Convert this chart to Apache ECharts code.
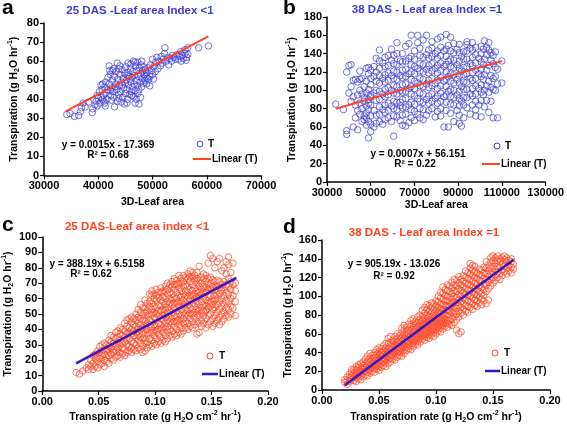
<!DOCTYPE html>
<html><head><meta charset="utf-8">
<script src="https://cdn.jsdelivr.net/npm/echarts@6/dist/echarts.min.js"></script>
<style>html,body{margin:0;padding:0;background:#fff}#c{width:567px;height:425px}</style>
</head><body><div id="c"></div>
<script>
const FONT = 'Arial, "Liberation Sans", sans-serif';
const BLUE = '#3c3cd4';
const RED = '#ff4422';
const TREND_BLUE = '#3318c8';

// Panel a: 3D leaf area vs transpiration, 25 DAS
const aPoints = [
[34200,32],[34800,32.5],[35600,31],[36400,31.5],[36700,33.5],[36900,35.5],[37200,38],[37600,36],[38200,38.5],[38900,33],[39000,35],[39400,37],[39600,39],[39800,36.5],[39800,42],
[40000,40.5],[40200,44],[40300,38],[40500,41],[40500,47.5],[40700,45],[40800,48],[40800,40],[41000,42],[41000,39],[41200,46.5],[41200,38],[41300,36.5],[41400,49],[41500,43.5],[41600,40],[41800,45],[41800,51.5],
[42000,48],[42000,57.5],[42100,55],[42200,53],[42200,44.5],[42300,42],[42400,39.5],[42500,46],[42600,50],[42600,55],[42700,44],[42800,56],[42900,41],[43000,36],[43000,52],[43100,46.5],[43200,48],[43300,54.5],[43400,45],[43500,39],[43500,59],[43600,50.5],[43700,42.5],[43800,56],[43800,40.5],[43900,47],
[44000,53],[44000,57.5],[44100,44],[44200,38.5],[44300,49],[44400,55.5],[44400,47.5],[44500,41],[44600,51],[44700,46],[44800,37.5],[44900,53.5],[45000,43],[45000,48.5],[45100,57],[45200,50],[45300,45],[45300,38],[45300,52.5],[45400,40],[45500,54],[45500,59],[45600,47.5],[45700,52],[45800,42.5],[45900,56],
[46000,49],[46000,58.5],[46100,44],[46200,51.5],[46200,42],[46300,46.5],[46400,54.5],[46500,41.5],[46500,60],[46600,48],[46700,52.5],[46800,38],[46800,44.5],[46800,59.5],[46900,57.5],[47000,50],[47000,40],[47100,55],[47200,47],[47300,59.5],[47300,43],[47400,52],[47500,45],[47500,37.5],[47600,56.5],[47700,49],[47800,53.5],[47800,41],[47900,58],
[48000,46.5],[48000,60],[48100,51],[48200,55],[48300,48.5],[48400,57],[48500,53],[48600,50],[48700,55.5],[48800,52],[48900,48],[49000,54],[49000,51],[49200,56.5],[49300,50.5],[49500,52],[49500,47],[49600,58],[49800,55],
[50000,61],[50000,53],[50200,57],[50200,50.5],[50500,54.5],[50600,59.5],[50800,62],[51000,56],[51200,60],[51500,57.5],[51600,62.5],[51800,59],[52000,61],[52200,64],[52300,67],[52500,60],[52800,62],[53000,58],[53200,61.5],[53500,60],[53700,63],
[54000,62],[54200,61],[54500,63.5],[54800,61],[55000,62.5],[55200,65],[55300,60],[55500,63],[55700,61.5],[56000,64],[56000,66],[56200,60.5],[56300,62],[56500,67],[56500,63.5],[58500,67],[60300,68]
];
const aTrend = [[34000,33.6],[60300,73]];

// Panel b: 3D leaf area vs transpiration, 38 DAS  (each row: x, then y values)
const bColumns = [
[34000,85],[37500,79],[39000,56,52,120],[40000,97,127],[41000,128,104,88],[42000,60,111,93],[43000,70,84,112],[44000,57,95,78,109],
[45000,100,74,86,121,112],[46000,66,96,113,80],[47000,72,88,104,68,92],[48000,62,75,83,97,110,124,70],[49000,48,66,79,90,101,118,125,86],
[50000,55,63,72,84,95,106,113,122,93],[51500,60,78,97,115,126],[52500,64,73,89,100,110,120,135],[54000,66,74,82,90,99,108,116,124,132,144],
[55500,63,79,96,113,130],[56500,68,76,84,93,101,109,117,126,136],[58000,70,78,86,95,103,111,119,127,138],[59500,66,83,100,116,133,145],
[60500,50,72,80,88,97,105,113,121,129,138],[62000,71,79,87,96,104,112,120,128,140,152],[63500,67,83,100,116,132,87],
[64500,62,73,81,90,98,106,114,122,131,140],[66000,61,74,82,91,99,107,115,123,132,148],[67500,65,84,102,118,135,151],
[68500,70,79,87,96,104,112,120,128,137,160],[70000,67,77,85,94,102,110,118,126,134,143],[71500,74,91,108,124,152,160],
[72500,70,80,88,97,105,113,121,129,138,146],[74000,68,79,87,96,104,112,120,128,136,155],[75500,73,90,107,123,139,160],
[76500,78,86,94,103,111,119,127,135,144],[78000,80,88,96,105,113,121,129,137,146,153],[79500,71,91,107,124,140],
[80500,77,86,94,102,111,119,127,135,143,156],[82000,72,80,88,97,105,114,122,130,138,147,158],[83500,60,93,110,126,143],
[84500,78,87,95,104,112,120,128,137,145,161],[85500,60,99,115,132,149],[86500,75,85,93,101,110,118,126,134,143,158],
[88000,66,84,92,100,108,117,125,133,141,151],[89500,78,95,112,128,145],[90500,64,73,83,91,99,108,116,124,132,141,150],
[91500,61,88,104,121,137],[92500,70,84,92,101,109,117,125,134,142],[94000,81,92,101,109,118,126,134,143,150,153],
[95500,74,96,113,129,146],[96500,84,94,102,111,119,127,136,144,152],[98000,72,79,88,96,105,113,122,130,139,147],
[99500,84,102,118,135],[100500,71,89,98,106,115,123,131,140,148],[101500,95,112,128,145],[102000,82,100,117,134,154],
[103000,89,105,122,139,147],[104000,76,98,110,127,144,152],[105000,88,103,116,133,141],[106000,70,101,113,129,138],
[107000,115,125,142,100],[108000,70,107,123],[110000,108,132]
];
const bTrend = [[34000,80],[110000,132]];

// Panel c: transpiration rate vs transpiration, 25 DAS
const cColumns = [
[0.030,12],[0.033,11],[0.036,13],[0.039,15],[0.041,17,14],[0.043,16,20],[0.045,14,18,23],[0.047,16,21,24],[0.049,15,19,22,26],
[0.051,17,21,25,29],[0.053,18,23,26,30],[0.055,16,20,24,27,31],[0.057,19,22,27,30],[0.059,18,23,26,29,33],[0.061,21,24,28,32,36],
[0.063,20,25,27,31,35],[0.065,22,26,29,34,38],[0.067,23,28,31,35,39],[0.069,22,25,30,33,37,41],[0.071,24,28,31,36,40],
[0.073,23,27,32,35,39,44],[0.075,25,30,33,37,42,46],[0.077,26,29,34,38,41,47],[0.079,25,28,32,37,40,45,48],[0.081,27,31,36,39,43,47],
[0.083,26,30,35,38,42,46,50],[0.085,28,33,36,41,44,48,53],[0.087,27,31,35,40,43,47,51,56],[0.089,25,29,34,37,41,46,49,54],
[0.091,26,31,34,39,42,46,51,54,59],[0.093,28,32,37,40,44,49,52,57],[0.095,30,34,38,43,46,50,55,58,63],[0.097,29,33,38,41,45,50,53,57,62,65],
[0.099,31,36,39,43,48,51,55,60,63],[0.101,30,34,39,42,47,50,54,59,62,66],[0.103,32,37,40,44,49,52,56,61,64],[0.105,31,35,40,43,47,52,55,59,64,67],
[0.107,33,38,41,46,49,53,58,61,65],[0.109,32,36,41,44,48,53,56,60,65,68],[0.111,34,39,42,46,51,54,58,63,66,70],[0.113,36,40,45,48,52,57,60,64,69],
[0.115,35,39,44,47,51,56,59,63,68,71],[0.117,37,42,45,49,54,57,61,66,69,73],[0.119,36,40,45,48,52,57,60,64,69,72],[0.121,38,43,46,50,55,58,62,67,70,75],
[0.123,37,41,46,49,53,58,61,65,70,73],[0.125,39,44,47,51,56,59,63,68,71,75],[0.127,41,45,50,53,57,62,65,69,74],[0.129,40,44,49,52,56,61,64,68,73,76],
[0.131,42,47,50,54,59,62,66,71,74,78],[0.133,41,45,50,53,57,62,65,69,74,77],[0.135,43,48,51,55,60,63,67,72,75],[0.137,37,45,50,53,58,61,65,70,73,77],
[0.139,38,44,49,52,56,61,64,68,72,81],[0.141,42,46,51,54,58,63,66,70,74],[0.143,44,49,52,56,61,64,68,73,76],[0.145,41,47,52,55,59,64,67,71,75],
[0.147,43,49,54,57,61,66,69,73,83],[0.149,45,50,55,58,62,67,70,74,88],[0.151,42,47,53,56,60,65,68,72,86],[0.153,44,49,54,59,62,66,71,80],
[0.155,46,51,56,60,65,68,72,84],[0.157,43,48,53,58,63,67,71,86],[0.159,45,50,55,60,65,69,78],[0.161,47,52,57,62,67,71,80],
[0.163,49,54,59,64,69,76,84],[0.165,48,53,58,63,68,73,87,82],[0.167,50,55,60,66,71,77],[0.169,54,62,69,83],[0.171,49,58,65,70]
];
const cTrend = [[0.030,18],[0.172,73.5]];

// Panel d: transpiration rate vs transpiration, 38 DAS
const dColumns = [
[0.020,8,11],[0.022,6,10,14],[0.024,9,13,17],[0.026,11,15,19,22],[0.028,10,14,18,22],[0.030,9,13,17,21,25],[0.032,12,16,20,24,27],
[0.034,11,15,19,23,28],[0.036,14,18,22,26,30],[0.038,16,20,24,28,33],[0.040,15,19,23,27,31,36],[0.042,18,22,26,30,34,39],
[0.044,20,24,28,32,37],[0.046,19,23,27,31,35,40],[0.048,22,26,30,34,38,43],[0.050,21,25,29,33,37,41,45],[0.052,24,28,32,36,40,44],
[0.054,26,30,34,38,42,47],[0.056,25,29,33,37,41,45,50],[0.058,28,32,36,40,44,49,55],[0.060,30,34,38,42,46,51,57],[0.062,33,37,41,45,49,53],
[0.064,32,36,40,44,48,52,57],[0.066,35,39,43,47,51,55,60],[0.068,37,41,45,49,53,58],[0.070,36,40,44,48,52,56,61,66],[0.072,39,43,47,51,55,59,64,69],
[0.074,42,46,50,54,58,62,67],[0.076,44,48,52,56,60,64,70],[0.078,43,47,51,55,59,63,68,74],[0.080,46,50,54,58,62,66,71,76],
[0.082,49,53,57,61,65,69,73],[0.084,48,52,56,60,64,68,72,78],[0.086,51,55,59,63,67,71,75,80],[0.088,54,58,62,66,70,74,79,85],
[0.090,53,57,61,65,69,73,77,82,88],[0.092,56,60,64,68,72,76,80,86,91],[0.094,55,59,63,67,71,75,79,84,90],[0.096,58,62,66,70,74,78,83,88,93],
[0.098,57,61,65,69,73,77,81,86,92],[0.100,60,64,68,72,76,80,85,90,95],[0.102,63,67,71,75,79,83,88,94,100],[0.104,62,66,70,74,78,82,87,92,98,104],
[0.106,65,69,73,77,81,86,91,97,103,110],[0.108,68,72,76,80,85,90,95,101,107],[0.110,67,71,75,80,85,90,95,100,106,112],
[0.112,70,74,79,84,89,94,99,105,111],[0.114,69,76,82,87,92,97,103,109,115],[0.116,72,78,84,89,94,100,106,112,118],
[0.118,64,75,81,87,93,99,105,111,117],[0.120,60,78,84,90,96,102,108,114,121],[0.122,62,82,88,94,100,106,112,118],
[0.124,80,86,92,98,104,110,116,122],[0.126,84,90,96,102,108,114,120,127],[0.128,83,89,95,101,107,113,119,125],
[0.130,88,94,100,106,112,118,124,130,135],[0.132,86,92,98,104,110,116,122,128,133],[0.134,90,96,102,108,114,120,126,132],
[0.136,89,95,101,107,113,119,125],[0.138,93,99,105,111,117,123,129],[0.140,91,97,103,109,116,122,128],[0.142,95,101,107,113,119,125,131],
[0.144,92,105,112,118,124,130,137],[0.146,96,108,115,121,127,133],[0.148,111,118,124,130,136,141],[0.150,114,120,126,132,138,143],
[0.152,117,123,129,135,141],[0.154,120,126,132,138,143],[0.156,118,124,131,137,140],[0.158,122,128,134,141],[0.160,126,132,139,143],
[0.162,124,130,136,141],[0.164,127,133,138],[0.166,125,131,137,140],[0.168,129,134]
];
const dTrend = [[0.020,5],[0.168,139]];

// Axis ranges [min, max, interval]
const xRanges = [[30000,70000,10000],[30000,130000,20000],[0,0.2,0.05],[0,0.2,0.05]];
const yRanges = [[0,80,10],[0,180,20],[0,100,10],[0,160,20]];
const titles = ['25 DAS -Leaf area Index <1','38 DAS - Leaf area Index =1','25 DAS-Leaf area index <1','38 DAS - Leaf area Index =1'];
const equations = [['y = 0.0015x - 17.369','R\u00b2 = 0.68'],['y = 0.0007x + 56.151','R\u00b2 = 0.22'],['y = 388.19x + 6.5158','R\u00b2 = 0.62'],['y = 905.19x - 13.026','R\u00b2 = 0.92']];

function flatten(cols){const out=[];cols.forEach(r=>{for(let i=1;i<r.length;i++)out.push([r[0],r[i]]);});return out;}

const grids = [
  {left:44, top:23, width:217, height:152.5},
  {left:327, top:17, width:223, height:165},
  {left:38, top:237, width:230, height:156},
  {left:322, top:240, width:228, height:152}
];

const yName = '{n|Transpiration (g H}{s|2}{n|O hr}{p|-1}{n|)}';
const xRate = '{n|Transpiration rate (g H}{s|2}{n|O cm}{p|-2}{n| hr}{p|-1}{n|)}';
const rich = {
  n:{fontSize:10.5, fontWeight:'bold', fontFamily:FONT, color:'#000', lineHeight:14, verticalAlign:'middle'},
  s:{fontSize:7, fontWeight:'bold', fontFamily:FONT, color:'#000', lineHeight:7, verticalAlign:'bottom'},
  p:{fontSize:7, fontWeight:'bold', fontFamily:FONT, color:'#000', lineHeight:7, verticalAlign:'top'}
};
const xNames = ['{n|3D-Leaf area}','{n|3D-Leaf area}',xRate,xRate];
const xGaps = [20,16,19,20];
const yGaps = [23,28,21,23];

function axisBase(){return {
  axisLine:{onZero:false, lineStyle:{color:'#000', width:1.5}},
  axisTick:{length:4, lineStyle:{color:'#000', width:1.2}},
  axisLabel:{color:'#000', fontWeight:'bold', fontSize:11, fontFamily:FONT, margin:5},
  splitLine:{show:false},
  nameTextStyle:{rich:rich}
};}

const xAxis = xRanges.map((r,i)=>Object.assign(axisBase(),{
  type:'value', gridIndex:i, min:r[0], max:r[1], interval:r[2],
  name:xNames[i], nameLocation:'middle', nameGap:xGaps[i],
  axisLabel:Object.assign(axisBase().axisLabel, {formatter: i>=2 ? (v=>v.toFixed(2)) : (v=>String(v))})
}));
const yAxis = yRanges.map((r,i)=>Object.assign(axisBase(),{
  type:'value', gridIndex:i, min:r[0], max:r[1], interval:r[2],
  name:yName, nameLocation:'middle', nameGap:yGaps[i], nameRotate:90,
  axisLabel:Object.assign(axisBase().axisLabel, {formatter: v=>String(v)})
}));

const pointSets = [aPoints, flatten(bColumns), flatten(cColumns), flatten(dColumns)];
const trends = [aTrend,bTrend,cTrend,dTrend];
const markColors = [BLUE,BLUE,RED,RED];
const trendColors = [RED,RED,TREND_BLUE,TREND_BLUE];

const series = [];
pointSets.forEach((pts,i)=>{
  series.push({type:'scatter', name:'T', xAxisIndex:i, yAxisIndex:i, data:pts, symbol:'circle', symbolSize:6.5,
    itemStyle:{color:'rgba(255,255,255,0)', borderColor:markColors[i], borderWidth:0.9}, z:2});
  series.push({type:'line', name:'Linear (T)', xAxisIndex:i, yAxisIndex:i, data:trends[i], symbol:'none', showSymbol:false,
    lineStyle:{color:trendColors[i], width:i>=2?2.5:2}, z:3});
});

const titleCenters = [[140,5],[427,4],[137,221],[424,227]];
const titleColors = [BLUE,BLUE,RED,RED];
const title = titles.map((t,i)=>({text:t, left:titleCenters[i][0], top:titleCenters[i][1], textAlign:'center', padding:0,
  textStyle:{color:titleColors[i], fontSize:11.5, fontWeight:'bold', fontFamily:FONT}}));

const graphic = [];
function txt(x,y,s,size,align,color){graphic.push({type:'text', x:x, y:y, silent:true,
  style:{text:s, fill:color||'#000', fontSize:size, fontWeight:'bold', fontFamily:FONT, align:align||'center', verticalAlign:'middle'}});}
const letters = [['a',2,8],['b',283,8],['c',2,225],['d',283,227]];
letters.forEach(l=>txt(l[1],l[2],l[0],21,'left'));
const eqPos = [[[108,145],[108,155]],[[418,154],[415,164]],[[97,264],[91,274]],[[394,264],[394,276]]];
equations.forEach((e,i)=>{txt(eqPos[i][0][0],eqPos[i][0][1],e[0],10);txt(eqPos[i][1][0],eqPos[i][1][1],e[1],10);});
const legPos = [
  {cx:200,cy:144,tx:208,lx1:193,lx2:211,ly:159,ltx:212},
  {cx:497,cy:146,tx:505,lx1:482,lx2:500,ly:164,ltx:501},
  {cx:210,cy:356,tx:219,lx1:202,lx2:218,ly:374,ltx:219},
  {cx:495,cy:353,tx:504,lx1:485,lx2:500,ly:371,ltx:501}
];
legPos.forEach((p,i)=>{
  graphic.push({type:'circle', silent:true, shape:{cx:p.cx, cy:p.cy, r:3}, style:{fill:'none', stroke:markColors[i], lineWidth:1}});
  txt(p.tx,p.cy,'T',10,'left');
  graphic.push({type:'line', silent:true, shape:{x1:p.lx1, y1:p.ly, x2:p.lx2, y2:p.ly}, style:{stroke:trendColors[i], lineWidth:i>=2?2.5:2}});
  txt(p.ltx,p.ly,'Linear (T)',10,'left');
});

const chart = echarts.init(document.getElementById('c'), null, {renderer:'canvas'});
chart.setOption({animation:false, backgroundColor:'#fff', title:title, grid:grids, xAxis:xAxis, yAxis:yAxis, series:series, graphic:graphic});
</script></body></html>
